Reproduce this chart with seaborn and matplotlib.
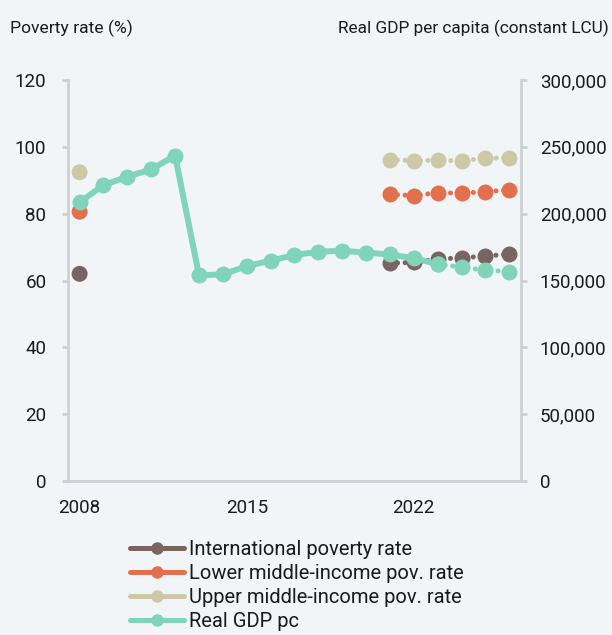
import numpy as np
import pandas as pd
import matplotlib
matplotlib.use("Agg")
import matplotlib.pyplot as plt
from matplotlib.lines import Line2D
from matplotlib.ticker import FuncFormatter
import seaborn as sns

# ---------------- data ----------------
gdp_years = [2008, 2009, 2010, 2011, 2012, 2013, 2014, 2015, 2016, 2017,
             2018, 2019, 2020, 2021, 2022, 2023, 2024, 2025, 2026]
gdp_pc = [208500, 221400, 227600, 233200, 243400, 154000, 154500, 160800,
          164800, 169100, 171500, 172300, 170800, 169500, 166600, 162300,
          159900, 157800, 156600]
gdp_last_actual = 2023

pov_years = [2008, 2021, 2022, 2023, 2024, 2025, 2026]
intl_rate = [62.0, 65.2, 65.4, 66.4, 66.8, 67.3, 67.9]
lmic_rate = [80.6, 85.8, 85.4, 86.3, 86.1, 86.6, 87.1]
umic_rate = [92.4, 96.1, 95.9, 96.0, 95.8, 96.6, 96.7]

series_names = ["International poverty rate", "Lower middle-income pov. rate",
                "Upper middle-income pov. rate", "Real GDP pc"]
x_tick_years = [2008, 2015, 2022]
left_ticks = [0, 20, 40, 60, 80, 100, 120]
right_ticks = [0, 50000, 100000, 150000, 200000, 250000, 300000]

# ---------------- style ----------------
BG = "#f2f5f7"
C_INTL = "#7a6461"
C_LMIC = "#e2704e"
C_UMIC = "#cdc9a7"
C_GDP = "#7fd4ba"
AXC = "#d0d0d0"
TXT = "#1a1a1a"

sns.set_theme(style="white")
plt.rcParams["font.family"] = ["Roboto", "DejaVu Sans"]
plt.rcParams["text.color"] = TXT
plt.rcParams["xtick.color"] = AXC
plt.rcParams["ytick.color"] = AXC
plt.rcParams["xtick.labelcolor"] = TXT
plt.rcParams["ytick.labelcolor"] = TXT

fig = plt.figure(figsize=(6.12, 6.35), dpi=100, facecolor=BG)
ax = fig.add_axes([0.1106, 0.2425, 0.7410, 0.6315])
ax.set_facecolor(BG)
ax2 = ax.twinx()
ax2.set_facecolor("none")

MS = 11.5
LW = 4.3
DOT = (0, (0.02, 1.5))

def pov_plot(vals, color):
    df = pd.DataFrame({"year": pov_years, "rate": vals})
    first = df.iloc[:1]
    proj = df.iloc[1:]
    sns.scatterplot(data=first, x="year", y="rate", ax=ax, color=color,
                    s=MS ** 2, edgecolor="none", linewidth=0, zorder=3)
    sns.lineplot(data=proj, x="year", y="rate", ax=ax, color=color,
                 marker="o", markersize=MS, markeredgewidth=0,
                 markeredgecolor=color, linewidth=3.6, linestyle=DOT,
                 dash_capstyle="round", zorder=3)

pov_plot(umic_rate, C_UMIC)
pov_plot(lmic_rate, C_LMIC)
pov_plot(intl_rate, C_INTL)

gdf = pd.DataFrame({"year": gdp_years, "gdp": gdp_pc})
act = gdf[gdf.year <= gdp_last_actual]
prj = gdf[gdf.year >= gdp_last_actual]
sns.lineplot(data=prj, x="year", y="gdp", ax=ax2, color=C_GDP, marker="o",
             markersize=MS, markeredgewidth=0, markeredgecolor=C_GDP,
             linewidth=3.6, linestyle=DOT, dash_capstyle="round")
sns.lineplot(data=act, x="year", y="gdp", ax=ax2, color=C_GDP, marker="o",
             markersize=MS, markeredgewidth=0, markeredgecolor=C_GDP,
             linewidth=LW, solid_capstyle="round", solid_joinstyle="round")

# ---------------- axes ----------------
ax.set_xlim(2007.5, 2026.5)
ax.set_ylim(0, 120)
ax2.set_ylim(0, 300000)
ax.set_xlabel("")
ax.set_ylabel("")
ax2.set_xlabel("")
ax2.set_ylabel("")

for a in (ax, ax2):
    for s in a.spines.values():
        s.set_visible(False)
        s.set_color(AXC)
        s.set_linewidth(2)
ax.spines["left"].set_visible(True)
ax.spines["bottom"].set_visible(True)
ax2.spines["right"].set_visible(True)

half_years = np.arange(2007.5, 2027.0, 1.0)
major_x = [2007.5, 2014.5, 2021.5]
ax.set_xticks(major_x)
ax.set_xticks([h for h in half_years if h not in major_x], minor=True)
ax.set_xticklabels([])
ax.tick_params(axis="x", which="major", length=5.5, width=2, color=AXC,
               direction="out")
ax.tick_params(axis="x", which="minor", length=3.5, width=2, color=AXC,
               direction="out")

sec = ax.secondary_xaxis("bottom")
sec.set_xticks(x_tick_years)
sec.set_xticklabels([str(y) for y in x_tick_years])
sec.tick_params(length=0, pad=13, labelsize=13.5, labelcolor=TXT)
sec.spines["bottom"].set_visible(False)

ax.set_yticks(left_ticks)
ax.set_yticklabels([str(v) for v in left_ticks])
ax.tick_params(axis="y", length=4.3, width=2, color=AXC, pad=11,
               labelsize=13.5, labelcolor=TXT, direction="out")
ax2.set_yticks(right_ticks)
ax2.yaxis.set_major_formatter(FuncFormatter(lambda v, p: f"{int(v):,}"))
ax2.tick_params(axis="y", length=4.3, width=2, color=AXC, pad=9,
                labelsize=13.5, labelcolor=TXT, direction="out")

# ---------------- titles ----------------
fig.text(10 / 612, 1 - 28 / 635, "Poverty rate (%)", ha="left", va="center",
         fontsize=12.6, color=TXT)
fig.text(609 / 612, 1 - 28 / 635, "Real GDP per capita (constant LCU)",
         ha="right", va="center", fontsize=12.4, color=TXT)

# ---------------- legend ----------------
handles = [Line2D([0], [0], color=c, lw=3.6, marker="o", markersize=9,
                  markeredgewidth=0, solid_capstyle="round")
           for c in (C_INTL, C_LMIC, C_UMIC, C_GDP)]
leg = fig.legend(handles, series_names, loc="upper left",
                 bbox_to_anchor=(130 / 612, 1 - 540 / 635), frameon=False,
                 fontsize=14.5, handlelength=2.7, handletextpad=0.22,
                 labelspacing=0.25, borderaxespad=0, borderpad=0)
for t in leg.get_texts():
    t.set_color(TXT)

fig.savefig("out.png", dpi=100, facecolor=BG)
